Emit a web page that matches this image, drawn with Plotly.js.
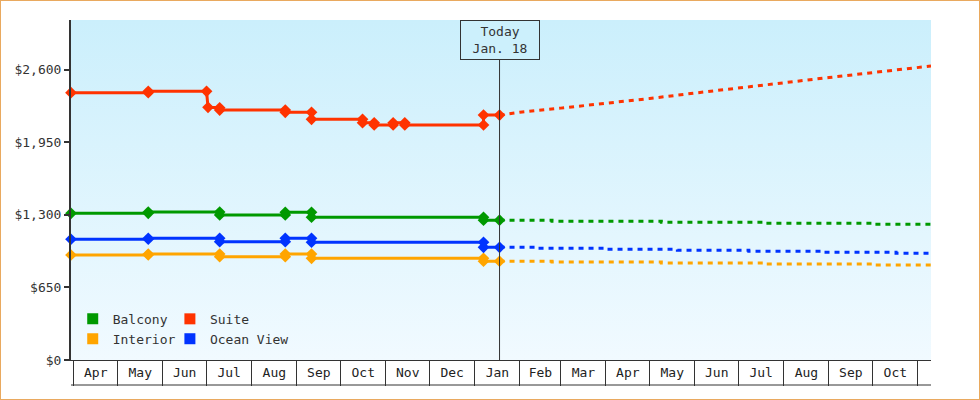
<!DOCTYPE html>
<html>
<head>
<meta charset="utf-8">
<script src="https://cdn.plot.ly/plotly-3.0.1.min.js"></script>
<style>
  html, body { margin: 0; padding: 0; background: #fff; }
  #wrap { position: relative; width: 980px; height: 400px; }
  #chart { width: 980px; height: 400px; }
  #frame { position: absolute; left: 0; top: 0; width: 980px; height: 400px; box-sizing: border-box; border: 1px solid #e9a95f; pointer-events: none; }
</style>
</head>
<body>
<div id="wrap"><div id="chart"></div><div id="frame"></div></div>
<script>
// ---- Data ----
const seriesNames = ['Balcony', 'Interior', 'Suite', 'Ocean View'];
const seriesColors = ['#009900', '#ffa500', '#ff3300', '#0033ff'];
const todayDate = '2023-01-18';
const todayLabel = 'Today<br>Jan. 18';

const yTickVals = [0, 650, 1300, 1950, 2600];
const yTickText = ['$0', '$650', '$1,300', '$1,950', '$2,600'];

// Suite
const suitePastDates = ['2022-03-30','2022-05-22','2022-05-22','2022-07-01','2022-07-02','2022-07-10','2022-07-10','2022-08-24','2022-08-24','2022-09-11','2022-09-11','2022-10-16','2022-10-16','2022-10-24','2022-10-24','2022-11-06','2022-11-06','2022-11-14','2022-11-14','2023-01-07','2023-01-07','2023-01-18'];
const suitePastValues = [2393, 2393, 2405, 2405, 2262, 2258, 2238, 2238, 2217, 2217, 2155, 2155, 2124, 2124, 2104, 2104, 2124, 2124, 2104, 2104, 2193, 2193];
const suiteFutureDates = ['2023-01-18','2023-02-01','2023-03-01','2023-04-01','2023-05-01','2023-06-01','2023-07-01','2023-08-01','2023-09-01','2023-10-01','2023-11-01','2023-11-10'];
const suiteFutureValues = [2193, 2218, 2255, 2296, 2341, 2390, 2432, 2482, 2529, 2574, 2618, 2632];

// Balcony
const balconyPastDates = ['2022-03-30','2022-05-22','2022-05-22','2022-07-10','2022-07-10','2022-08-24','2022-08-24','2022-09-11','2022-09-11','2023-01-07','2023-01-07','2023-01-18'];
const balconyPastValues = [1313, 1313, 1325, 1325, 1298, 1298, 1322, 1322, 1278, 1278, 1252, 1252];
const balconyFutureDates = ['2023-01-18','2023-02-23','2023-02-23','2023-05-09','2023-05-09','2023-07-19','2023-07-19','2023-10-01','2023-10-01','2023-11-10'];
const balconyFutureValues = [1252, 1252, 1242, 1242, 1233, 1233, 1224, 1224, 1215, 1215];

// Ocean View
const oceanPastDates = ['2022-03-30','2022-05-22','2022-05-22','2022-07-10','2022-07-10','2022-08-24','2022-08-24','2022-09-11','2022-09-11','2023-01-07','2023-01-07','2023-01-18'];
const oceanPastValues = [1081, 1081, 1090, 1090, 1059, 1059, 1090, 1090, 1054, 1054, 1009, 1009];
const oceanFutureDates = ['2023-01-18','2023-02-12','2023-02-12','2023-04-02','2023-04-02','2023-05-20','2023-05-20','2023-07-08','2023-07-08','2023-08-27','2023-08-27','2023-10-17','2023-10-17','2023-11-10'];
const oceanFutureValues = [1009, 1009, 1000, 1000, 991, 991, 982, 982, 973, 973, 964, 964, 955, 955];

// Interior
const interiorPastDates = ['2022-03-30','2022-05-22','2022-05-22','2022-07-10','2022-07-10','2022-08-24','2022-08-24','2022-09-11','2022-09-11','2023-01-07','2023-01-07','2023-01-18'];
const interiorPastValues = [940, 940, 949, 949, 925, 925, 949, 949, 910, 910, 884, 884];
const interiorFutureDates = ['2023-01-18','2023-02-23','2023-02-23','2023-05-09','2023-05-09','2023-07-19','2023-07-19','2023-10-01','2023-10-01','2023-11-10'];
const interiorFutureValues = [884, 884, 877, 877, 868, 868, 859, 859, 850, 850];

// ---- Build traces ----
const FONT = 'DejaVu Sans Mono, monospace';
function past(x, y, color) {
  return { type: 'scatter', mode: 'lines+markers', x: x, y: y, showlegend: false, hoverinfo: 'skip',
    line: { color: color, width: 3 }, marker: { symbol: 'diamond', size: 9, color: color, line: { width: 0 } }, cliponaxis: false };
}
function future(x, y, color) {
  return { type: 'scatter', mode: 'lines', x: x, y: y, showlegend: false, hoverinfo: 'skip',
    line: { color: color, width: 3, dash: '5px,5px' } };
}
function legendItem(name, color, legend) {
  return { type: 'scatter', mode: 'markers', x: [null], y: [null], name: name, legend: legend, showlegend: true,
    marker: { symbol: 'square', size: 11, color: color, line: { width: 0 } } };
}

const data = [
  past(interiorPastDates, interiorPastValues, seriesColors[1]),
  future(interiorFutureDates, interiorFutureValues, seriesColors[1]),
  past(oceanPastDates, oceanPastValues, seriesColors[3]),
  future(oceanFutureDates, oceanFutureValues, seriesColors[3]),
  past(balconyPastDates, balconyPastValues, seriesColors[0]),
  future(balconyFutureDates, balconyFutureValues, seriesColors[0]),
  past(suitePastDates, suitePastValues, seriesColors[2]),
  future(suiteFutureDates, suiteFutureValues, seriesColors[2]),
  legendItem(seriesNames[0], seriesColors[0], 'legend'),
  legendItem(seriesNames[1], seriesColors[1], 'legend'),
  legendItem(seriesNames[2], seriesColors[2], 'legend2'),
  legendItem(seriesNames[3], seriesColors[3], 'legend2')
];

const grad = '<svg xmlns="http://www.w3.org/2000/svg" width="100" height="100" preserveAspectRatio="none">' +
  '<defs><linearGradient id="g" x1="0" y1="0" x2="0" y2="1"><stop offset="0" stop-color="#cbeffc"/><stop offset="1" stop-color="#f1faff"/></linearGradient></defs>' +
  '<rect width="100" height="100" fill="url(#g)"/></svg>';

const layout = {
  width: 980, height: 400,
  margin: { l: 71, r: 49, t: 20, b: 40 },
  paper_bgcolor: '#ffffff',
  plot_bgcolor: 'rgba(0,0,0,0)',
  font: { family: FONT, size: 13, color: '#333' },
  images: [{ source: 'data:image/svg+xml;charset=utf-8,' + encodeURIComponent(grad), xref: 'paper', yref: 'paper',
    x: 0, y: 1, sizex: 1, sizey: 1, sizing: 'stretch', xanchor: 'left', yanchor: 'top', layer: 'below' }],
  xaxis: {
    type: 'date', range: ['2022-03-30', '2023-11-10'],
    showgrid: false, zeroline: false, showline: true, linecolor: '#333', linewidth: 1,
    ticks: 'outside', ticklen: 25, tickwidth: 1, tickcolor: '#333',
    dtick: 'M1', tick0: '2022-04-01', tickformat: '%b', ticklabelmode: 'period',
    ticklabelstandoff: -25,
    tickfont: { family: FONT, size: 13, color: '#222' }, fixedrange: true
  },
  yaxis: {
    range: [0, 3044], tickmode: 'array', tickvals: yTickVals, ticktext: yTickText,
    showgrid: false, zeroline: false, showline: true, linecolor: '#333', linewidth: 2,
    ticks: 'outside', ticklen: 5, tickwidth: 2, tickcolor: '#333',
    tickfont: { family: FONT, size: 13, color: '#333' }, fixedrange: true
  },
  shapes: [
    { type: 'line', xref: 'x', yref: 'paper', x0: todayDate, x1: todayDate, y0: 0, y1: 1, layer: 'above',
      line: { color: '#333', width: 1 } },
    { type: 'line', xref: 'paper', yref: 'paper', x0: 0, x1: 1, y0: -25 / 340, y1: -25 / 340,
      line: { color: '#333', width: 1 } }
  ],
  annotations: [{
    x: todayDate, xref: 'x', y: 1, yref: 'paper', yanchor: 'top', xanchor: 'center',
    text: todayLabel, showarrow: false, align: 'center',
    font: { family: FONT, size: 13, color: '#333' },
    bgcolor: '#ccf0fc', bordercolor: '#333', borderwidth: 1, borderpad: 0, width: 78, height: 38
  }],
  legend: { x: 0.002, y: 0.018, xanchor: 'left', yanchor: 'bottom', bgcolor: 'rgba(0,0,0,0)', borderwidth: 0,
    font: { family: FONT, size: 13, color: '#333' }, tracegroupgap: 0 },
  legend2: { x: 0.115, y: 0.018, xanchor: 'left', yanchor: 'bottom', bgcolor: 'rgba(0,0,0,0)', borderwidth: 0,
    font: { family: FONT, size: 13, color: '#333' }, tracegroupgap: 0 },
  showlegend: true
};

Plotly.newPlot('chart', data, layout, { displayModeBar: false, staticPlot: true });
</script>
</body>
</html>
